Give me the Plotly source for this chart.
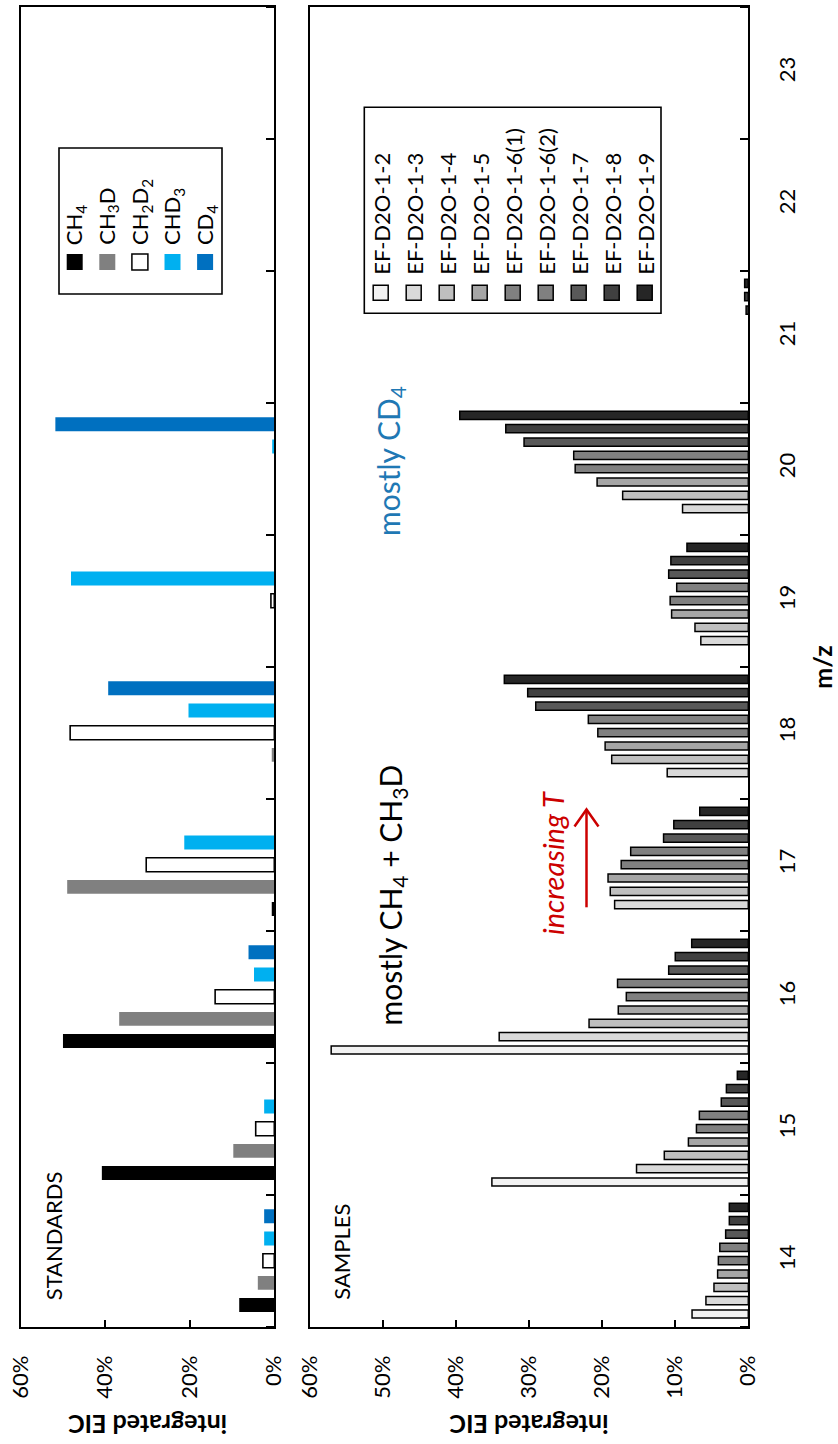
import plotly.graph_objects as go

# ---------------- data ----------------
MZ_DATA = [14, 15, 16, 17, 18, 19, 20, 21]
MZ_TICKS = [14, 15, 16, 17, 18, 19, 20, 21, 22, 23]

# Standards: integrated EIC (%) per m/z
STD_NAMES = ["CH<sub>4</sub>", "CH<sub>3</sub>D", "CH<sub>2</sub>D<sub>2</sub>",
             "CHD<sub>3</sub>", "CD<sub>4</sub>"]
std_ch4 = [8.3, 40.8, 50.0, 0.6, None, None, None, None]
std_ch3d = [3.9, 9.7, 36.7, 49.0, 0.6, None, None, None]
std_ch2d2 = [2.7, 4.4, 14.0, 30.3, 48.3, 0.8, None, None]
std_chd3 = [2.4, 2.4, 4.8, 21.3, 20.3, 48.1, 0.5, None]
std_cd4 = [2.4, None, 6.1, None, 39.3, None, 51.8, None]
STD_VALUES = [std_ch4, std_ch3d, std_ch2d2, std_chd3, std_cd4]
STD_COLORS = ["#000000", "#808080", "#ffffff", "#00b0f0", "#0070c0"]

# Samples: integrated EIC (%) per m/z
SMP_NAMES = ["EF-D2O-1-2", "EF-D2O-1-3", "EF-D2O-1-4", "EF-D2O-1-5",
             "EF-D2O-1-6(1)", "EF-D2O-1-6(2)", "EF-D2O-1-7", "EF-D2O-1-8",
             "EF-D2O-1-9"]
smp_1_2 = [7.7, 35.1, 57.1, None, None, None, None, None]
smp_1_3 = [5.8, 15.3, 34.1, 18.3, 11.1, 6.5, 9.0, None]
smp_1_4 = [4.7, 11.5, 21.8, 18.9, 18.7, 7.3, 17.2, None]
smp_1_5 = [4.2, 8.2, 17.8, 19.2, 19.6, 10.5, 20.7, None]
smp_1_6a = [4.1, 7.1, 16.7, 17.4, 20.6, 10.7, 23.7, None]
smp_1_6b = [3.9, 6.7, 17.9, 16.1, 21.9, 9.8, 23.9, None]
smp_1_7 = [3.1, 3.7, 10.9, 11.6, 29.1, 10.9, 30.7, 0.3]
smp_1_8 = [2.6, 3.0, 10.0, 10.2, 30.2, 10.6, 33.2, 0.5]
smp_1_9 = [2.6, 1.5, 7.75, 6.65, 33.4, 8.4, 39.5, 0.5]
SMP_VALUES = [smp_1_2, smp_1_3, smp_1_4, smp_1_5, smp_1_6a, smp_1_6b,
              smp_1_7, smp_1_8, smp_1_9]
SMP_COLORS = ["#f2f2f2", "#d9d9d9", "#bfbfbf", "#a6a6a6", "#808080",
              "#808080", "#595959", "#404040", "#262626"]

PCT_TICKS_STD = [0, 20, 40, 60]
PCT_TICKS_SMP = [0, 10, 20, 30, 40, 50, 60]

# ---------------- layout helpers ----------------
W, H = 838, 1444
FONT = "Lato, 'Open Sans', sans-serif"


def px(x):
    return x / W


def py(y):
    return 1 - y / H


STD_PITCH, STD_WIDTH = 0.168, 0.106
SMP_PITCH, SMP_WIDTH = 0.101, 0.062

fig = go.Figure()

n = len(STD_VALUES)
for i, (name, vals, col) in enumerate(zip(STD_NAMES, STD_VALUES, STD_COLORS)):
    off = (i - (n - 1) / 2) * STD_PITCH - STD_WIDTH / 2
    outline = 1.6 if col == "#ffffff" else 0
    fig.add_trace(go.Bar(
        x=vals, y=MZ_DATA, orientation="h", name=name,
        width=STD_WIDTH, offset=off,
        marker=dict(color=col, line=dict(color="black", width=outline)),
        xaxis="x", yaxis="y", showlegend=False,
    ))

n = len(SMP_VALUES)
for i, (name, vals, col) in enumerate(zip(SMP_NAMES, SMP_VALUES, SMP_COLORS)):
    off = (i - (n - 1) / 2) * SMP_PITCH - SMP_WIDTH / 2
    fig.add_trace(go.Bar(
        x=vals, y=MZ_DATA, orientation="h", name=name,
        width=SMP_WIDTH, offset=off,
        marker=dict(color=col, line=dict(color="black", width=1.5)),
        xaxis="x2", yaxis="y2", showlegend=False,
    ))

Y_DOMAIN = [py(1326.7), py(6.7)]
half_ticks = [v + 0.5 for v in range(13, 24)]

common_x = dict(
    range=[60, 0], ticks="inside", ticklen=7, tickwidth=2, tickcolor="black",
    tickangle=-90, showline=True, linecolor="black",
    linewidth=2, mirror=True, showgrid=False, zeroline=False,
    ticklabelstandoff=18, tickfont=dict(size=22), automargin=False,
)
common_y = dict(
    range=[13.5, 23.5], side="right", showline=True, linecolor="black",
    linewidth=2, mirror=True, showgrid=False, zeroline=False, ticks="",
    minor=dict(tickvals=half_ticks, ticks="inside", ticklen=8, tickwidth=2,
               tickcolor="black", showgrid=False),
    domain=Y_DOMAIN, automargin=False,
)

fig.update_layout(
    width=W, height=H, margin=dict(l=0, r=0, t=0, b=0),
    paper_bgcolor="white", plot_bgcolor="white",
    barmode="overlay", showlegend=False,
    font=dict(family=FONT, size=22, color="black"),
    xaxis=dict(domain=[px(20.7), px(274.3)], anchor="y",
               tickvals=PCT_TICKS_STD,
               ticktext=[f"{v}%" for v in PCT_TICKS_STD], **common_x),
    xaxis2=dict(domain=[px(310), px(748.3)], anchor="y2",
                tickvals=PCT_TICKS_SMP,
                ticktext=[f"{v}%" for v in PCT_TICKS_SMP], **common_x),
    yaxis=dict(anchor="x", showticklabels=False, tickvals=MZ_TICKS, **common_y),
    yaxis2=dict(anchor="x2", matches="y", tickvals=MZ_TICKS,
                showticklabels=True, tickangle=-90, ticklabelstandoff=18,
                tickfont=dict(size=22), **common_y),
)

shapes = []
annotations = []

# axis titles
for cx in (147.5, 529.2):
    annotations.append(dict(
        x=px(cx), y=py(1425), xref="paper", yref="paper",
        text="<b>integrated EIC</b>", textangle=180, showarrow=False,
        xanchor="center", yanchor="middle", font=dict(size=25)))
annotations.append(dict(
    x=px(822), y=py(666.7), xref="paper", yref="paper", text="<b>m/z</b>",
    textangle=-90, showarrow=False, xanchor="center", yanchor="middle",
    font=dict(size=25)))

# panel labels
for cx, label in ((53.8, "STANDARDS"), (340.7, "SAMPLES")):
    annotations.append(dict(
        x=px(cx), y=py(1302), xref="paper", yref="paper", text=label,
        textangle=-90, showarrow=False, xanchor="center", yanchor="bottom",
        font=dict(size=22)))

# standards legend
shapes.append(dict(type="rect", xref="paper", yref="paper",
                   x0=px(59), x1=px(222), y0=py(294), y1=py(148),
                   line=dict(color="black", width=1.6), fillcolor="white",
                   layer="above"))
for i, (name, col) in enumerate(zip(STD_NAMES, STD_COLORS)):
    cx = 74.7 + 32.6 * i
    shapes.append(dict(type="rect", xref="paper", yref="paper",
                       x0=px(cx - 8), x1=px(cx + 8), y0=py(270), y1=py(254),
                       fillcolor=col,
                       line=dict(color="black", width=1.5 if col == "#ffffff" else 0),
                       layer="above"))
    annotations.append(dict(
        x=px(cx + 1), y=py(247), xref="paper", yref="paper", text=name,
        textangle=-90, showarrow=False, xanchor="center", yanchor="bottom",
        font=dict(size=22)))

# samples legend
shapes.append(dict(type="rect", xref="paper", yref="paper",
                   x0=px(364.3), x1=px(661), y0=py(313.3), y1=py(107.3),
                   line=dict(color="black", width=1.6), fillcolor="white",
                   layer="above"))
for j, (name, col) in enumerate(zip(SMP_NAMES, SMP_COLORS)):
    cx = 380.7 + 33.0 * j
    shapes.append(dict(type="rect", xref="paper", yref="paper",
                       x0=px(cx - 7.5), x1=px(cx + 7.5), y0=py(300.2), y1=py(285.2),
                       fillcolor=col, line=dict(color="black", width=1.5),
                       layer="above"))
    annotations.append(dict(
        x=px(cx), y=py(277), xref="paper", yref="paper", text=name,
        textangle=-90, showarrow=False, xanchor="center", yanchor="bottom",
        font=dict(size=22)))

# text notes
annotations.append(dict(
    x=px(391), y=py(1028), xref="paper", yref="paper",
    text="mostly CH<sub>4</sub> + CH<sub>3</sub>D", textangle=-90,
    showarrow=False, xanchor="center", yanchor="bottom", font=dict(size=30)))
annotations.append(dict(
    x=px(390), y=py(538), xref="paper", yref="paper",
    text="mostly CD<sub>4</sub>", textangle=-90, showarrow=False,
    xanchor="center", yanchor="bottom", font=dict(size=30, color="#1f78b4")))
annotations.append(dict(
    x=px(552), y=py(937), xref="paper", yref="paper",
    text="<i>increasing T</i>", textangle=-90, showarrow=False,
    xanchor="center", yanchor="bottom", font=dict(size=29, color="#cc0000")))

# direction arrow
ax_, tail, tip = 586.5, 907.3, 809.5
shapes.append(dict(type="path", xref="paper", yref="paper",
                   path=f"M {px(ax_)},{py(tail)} L {px(ax_)},{py(tip)}",
                   line=dict(color="#cc0000", width=2.5)))
shapes.append(dict(type="path", xref="paper", yref="paper",
                   path=(f"M {px(ax_ - 12)},{py(tip + 17)} L {px(ax_)},{py(tip)} "
                         f"L {px(ax_ + 12)},{py(tip + 17)}"),
                   line=dict(color="#cc0000", width=2.5)))

fig.update_layout(shapes=shapes, annotations=annotations)

fig.write_html("out.html")
